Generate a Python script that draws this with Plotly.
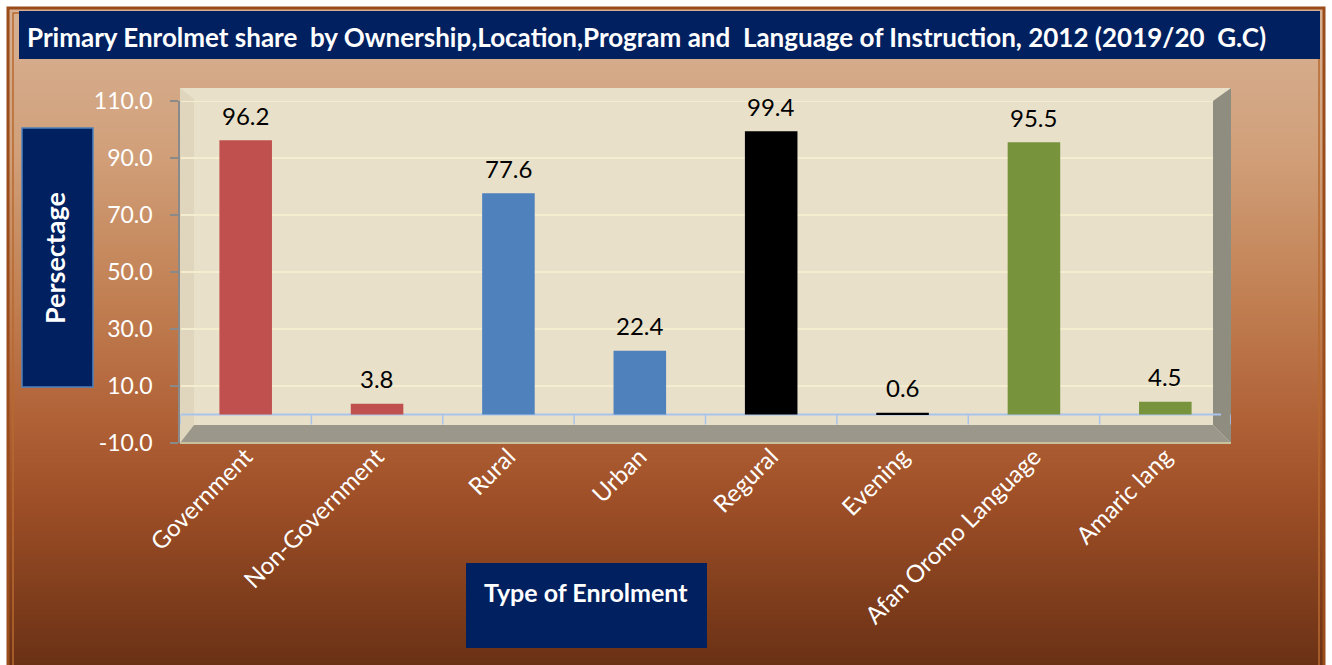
import base64
import struct
import zlib

import plotly.graph_objects as go

# ---------------- data ----------------
categories = ["Government", "Non-Government", "Rural", "Urban", "Regural",
              "Evening", "Afan Oromo Language", "Amaric lang"]
shares = [96.2, 3.8, 77.6, 22.4, 99.4, 0.6, 95.5, 4.5]
y_ticks = [-10, 10, 30, 50, 70, 90, 110]
y_tick_labels = [f"{t:.1f}" for t in y_ticks]
title_text = ("Primary Enrolmet share  by Ownership,Location,Program and  "
              "Language of Instruction, 2012 (2019/20  G.C)")
y_title = "Persectage"
x_title = "Type of Enrolment"

# ---------------- styles ----------------
bar_colors = ["#c0504d", "#c0504d", "#4f81bd", "#4f81bd", "#000000",
              "#000000", "#77933c", "#77933c"]
NAVY = "#002060"
FONT = "Lato"
W, H = 1332, 665
ML, MR, MT, MB = 180, 101, 101, 222
PW, PH = W - ML - MR, H - MT - MB


def px(x):
    return (x - ML) / PW


def py(y):
    return (H - MB - y) / PH


def png_uri(rows):
    raw = b"".join(b"\x00" + bytes(c) * 2 for c in rows)

    def chunk(t, d):
        return (struct.pack(">I", len(d)) + t + d +
                struct.pack(">I", zlib.crc32(t + d) & 0xFFFFFFFF))

    ihdr = struct.pack(">IIBBBBB", 2, len(rows), 8, 2, 0, 0, 0)
    png = (b"\x89PNG\r\n\x1a\n" + chunk(b"IHDR", ihdr) +
           chunk(b"IDAT", zlib.compress(raw)) + chunk(b"IEND", b""))
    return "data:image/png;base64," + base64.b64encode(png).decode()


stops = [(0, (215, 176, 147)), (60, (213, 171, 139)), (150, (209, 160, 122)),
         (300, (193, 127, 82)), (420, (176, 97, 54)), (500, (158, 79, 39)),
         (665, (106, 49, 21))]


def grad(y):
    for (y0, c0), (y1, c1) in zip(stops, stops[1:]):
        if y0 <= y <= y1:
            t = (y - y0) / (y1 - y0)
            return tuple(int(round(a + (b - a) * t)) for a, b in zip(c0, c1))
    return stops[-1][1]


bg_rows = [grad(y) for y in range(8, H)]

fig = go.Figure()
fig.add_trace(go.Bar(x=categories, y=shares, marker_color=bar_colors,
                     marker_line_width=0, width=0.4, hoverinfo="x+y"))

shapes = []


def rect(x0, y0, x1, y1, fill=None, line=None, lw=0, layer="below"):
    shapes.append(dict(type="rect", xref="paper", yref="paper",
                       x0=px(x0), x1=px(x1), y0=py(y1), y1=py(y0),
                       fillcolor=fill or "rgba(0,0,0,0)",
                       line=dict(color=line or "rgba(0,0,0,0)", width=lw),
                       layer=layer))


def poly(pts, fill, layer="below"):
    d = "M " + " L ".join(f"{px(a)},{py(b)}" for a, b in pts) + " Z"
    shapes.append(dict(type="path", xref="paper", yref="paper", path=d,
                       fillcolor=fill, line=dict(width=0), layer=layer))


# outer frame
rect(8, 8, 1324, 672, line="#9a4c1a", lw=3)
rect(13, 13, 1319, 672, line="#b8692f", lw=1.5)
# title box
rect(19, 11, 1320, 59, fill=NAVY)
# y title box
rect(22, 128, 93, 387, fill=NAVY, line="#4f81bd", lw=1.5)
# x title box
rect(466, 563, 707, 648, fill=NAVY)
# chart wall (linen)
rect(180, 88, 1231, 443, fill="#e9e0ca")
poly([(180, 88), (194, 99), (194, 425), (180, 443)], "#e0d6be")
# right side wall
poly([(1213, 101), (1231, 88), (1231, 443), (1213, 425)], "#8f8c80")
# floor
poly([(194, 425), (1213, 425), (1231, 443), (180, 443)], "#9b978a")
shapes.append(dict(type="line", xref="paper", yref="paper",
                   x0=px(180), x1=px(1231), y0=py(443), y1=py(443),
                   line=dict(color="#c9c09c", width=2), layer="below"))

# gridlines
for t in y_ticks:
    if t > 0:
        shapes.append(dict(type="line", xref="paper", yref="y",
                           x0=px(181), x1=px(1213), y0=t, y1=t,
                           line=dict(color="#f4edcf", width=2), layer="below"))
# zero base line with category separators
shapes.append(dict(type="line", xref="paper", yref="y",
                   x0=px(181), x1=px(1221), y0=0, y1=0,
                   line=dict(color="#a9c3ea", width=2), layer="below"))
for i in range(len(categories) + 1):
    shapes.append(dict(type="line", xref="x", yref="y",
                       x0=i - 0.5, x1=i - 0.5, y0=0, y1=-3.5,
                       line=dict(color="#a9c3ea", width=1.5), layer="below"))

annotations = []
for c, v in zip(categories, shares):
    annotations.append(dict(x=c, y=v, xref="x", yref="y", text=f"{v:.1f}",
                            showarrow=False, yanchor="middle", yshift=25,
                            font=dict(family=FONT, size=24, color="black")))
annotations.append(dict(x=px(646), y=py(37), xref="paper", yref="paper",
                        xanchor="center", yanchor="middle",
                        text=f"<b>{title_text}</b>", showarrow=False,
                        font=dict(family=FONT, size=26, color="white")))
annotations.append(dict(x=px(54), y=py(258), xref="paper", yref="paper",
                        xanchor="center", yanchor="middle",
                        text=f"<b>{y_title}</b>", showarrow=False, textangle=-90,
                        font=dict(family=FONT, size=27, color="white")))
annotations.append(dict(x=px(586), y=py(592), xref="paper", yref="paper",
                        xanchor="center", yanchor="middle",
                        text=f"<b>{x_title}</b>", showarrow=False,
                        font=dict(family=FONT, size=25, color="white")))

fig.update_layout(
    width=W, height=H,
    margin=dict(l=ML, r=MR, t=MT, b=MB, pad=0),
    paper_bgcolor="white",
    plot_bgcolor="rgba(0,0,0,0)",
    showlegend=False,
    shapes=shapes,
    annotations=annotations,
    images=[dict(source=png_uri(bg_rows), xref="paper", yref="paper",
                 x=px(9), y=py(9), sizex=(1323 - 9) / PW, sizey=(H - 9) / PH,
                 xanchor="left", yanchor="top", sizing="stretch",
                 layer="below")],
    xaxis=dict(type="category", range=[-0.5, len(categories) - 0.5],
               showgrid=False, showline=False, ticks="", tickangle=-45,
               ticklabelstandoff=-6,
               tickfont=dict(family=FONT, size=24, color="white"),
               zeroline=False, fixedrange=True),
    yaxis=dict(range=[y_ticks[0], y_ticks[-1]], tickvals=y_ticks,
               ticktext=y_tick_labels, showgrid=False, zeroline=False,
               showline=True, linecolor="#8a8a8a", linewidth=1.5,
               ticks="outside", ticklen=8, tickcolor="#8a8a8a", tickwidth=1.5,
               ticklabelstandoff=13,
               tickfont=dict(family=FONT, size=23, color="white"),
               fixedrange=True),
    bargap=0.6,
)

fig.write_html("out.html", config={"displayModeBar": False},
               post_script="document.body.style.margin='0px';")
